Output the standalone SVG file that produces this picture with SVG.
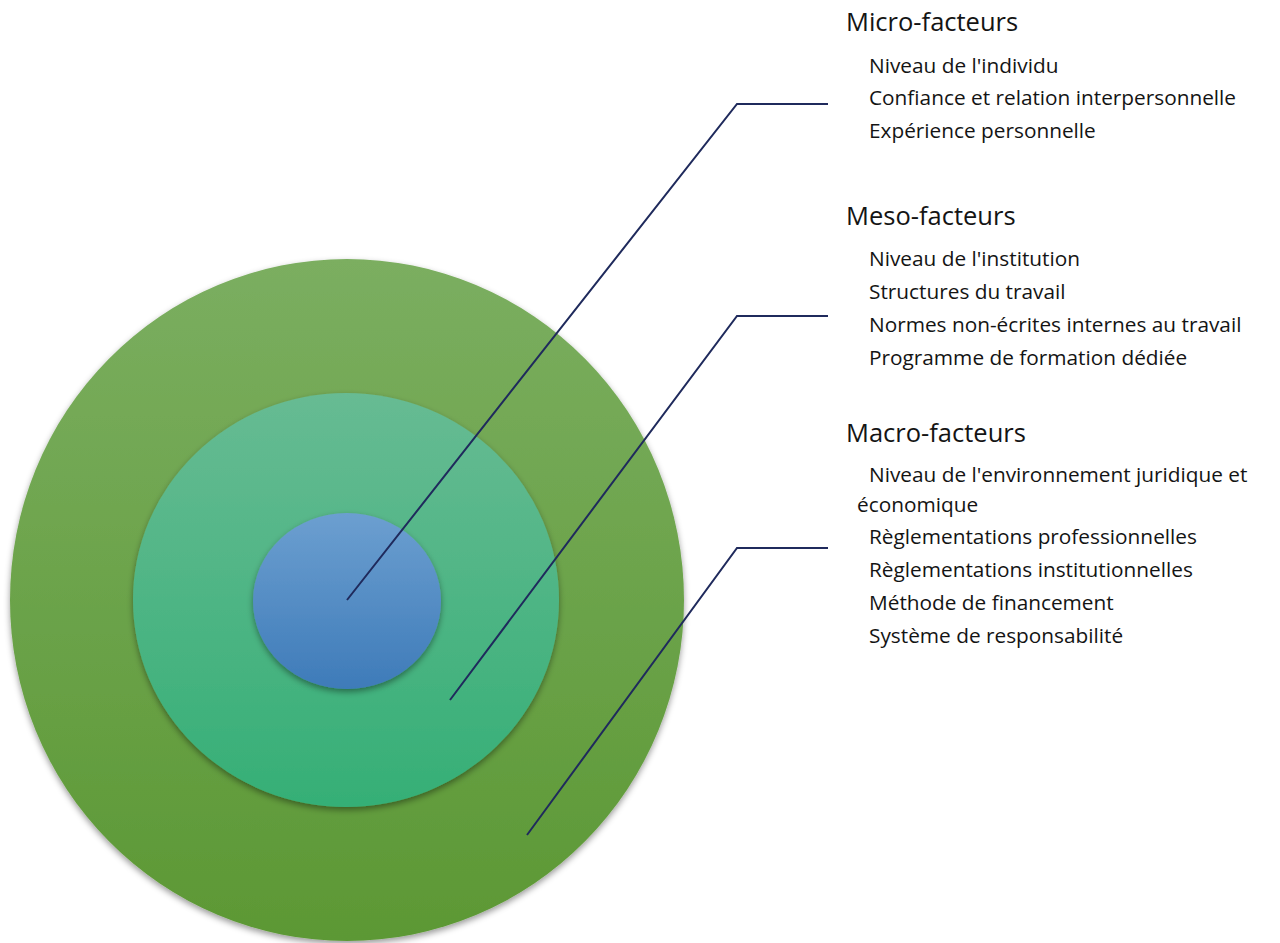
<svg xmlns="http://www.w3.org/2000/svg" width="1280" height="943" viewBox="0 0 1280 943">
<style>
.t{font-family:"Open Sans","Noto Sans","Liberation Sans",sans-serif;fill:#141414}
.h{font-size:25.5px}
.i{font-size:20.8px}
.c{fill:none;stroke:#1f2a5c;stroke-width:2;stroke-linejoin:miter}
</style>
<defs>
<linearGradient id="gO" x1="0" y1="0" x2="0" y2="1"><stop offset="0" stop-color="#7bae60"/><stop offset="1" stop-color="#5c9834"/></linearGradient>
<linearGradient id="gM" x1="0" y1="0" x2="0" y2="1"><stop offset="0" stop-color="#67bb93"/><stop offset="1" stop-color="#35af76"/></linearGradient>
<linearGradient id="gI" x1="0" y1="0" x2="0" y2="1"><stop offset="0" stop-color="#6c9fd0"/><stop offset="1" stop-color="#3e7bb9"/></linearGradient>
<filter id="sh" x="-10%" y="-10%" width="120%" height="125%"><feDropShadow dx="0" dy="3" stdDeviation="3" flood-color="#000" flood-opacity="0.4"/></filter>
</defs>
<g id="macro-ring"><ellipse cx="347" cy="600" rx="337" ry="341" fill="url(#gO)" filter="url(#sh)"/></g>
<g id="meso-ring"><ellipse cx="346" cy="600" rx="213" ry="207" fill="url(#gM)" filter="url(#sh)"/></g>
<g id="micro-ring"><ellipse cx="347" cy="601" rx="94" ry="88" fill="url(#gI)" filter="url(#sh)"/></g>
<g id="connectors">
<polyline class="c" points="347,600 737,104 828,104"/>
<polyline class="c" points="450,700 737,316 828,316"/>
<polyline class="c" points="527,835 737,548 828,548"/>
</g>
<g id="micro-text">
<text class="t h" x="846" y="31">Micro-facteurs</text>
<text class="t i" x="869" y="73">Niveau de l'individu</text>
<text class="t i" x="869" y="105">Confiance et relation interpersonnelle</text>
<text class="t i" x="869" y="138">Expérience personnelle</text>
</g>
<g id="meso-text">
<text class="t h" x="846" y="225">Meso-facteurs</text>
<text class="t i" x="869" y="266">Niveau de l'institution</text>
<text class="t i" x="869" y="299">Structures du travail</text>
<text class="t i" x="869" y="332">Normes non-écrites internes au travail</text>
<text class="t i" x="869" y="365">Programme de formation dédiée</text>
</g>
<g id="macro-text">
<text class="t h" x="846" y="442">Macro-facteurs</text>
<text class="t i" x="869" y="482">Niveau de l'environnement juridique et</text>
<text class="t i" x="857" y="512">économique</text>
<text class="t i" x="869" y="544">Règlementations professionnelles</text>
<text class="t i" x="869" y="577">Règlementations institutionnelles</text>
<text class="t i" x="869" y="610">Méthode de financement</text>
<text class="t i" x="869" y="643">Système de responsabilité</text>
</g>
</svg>
